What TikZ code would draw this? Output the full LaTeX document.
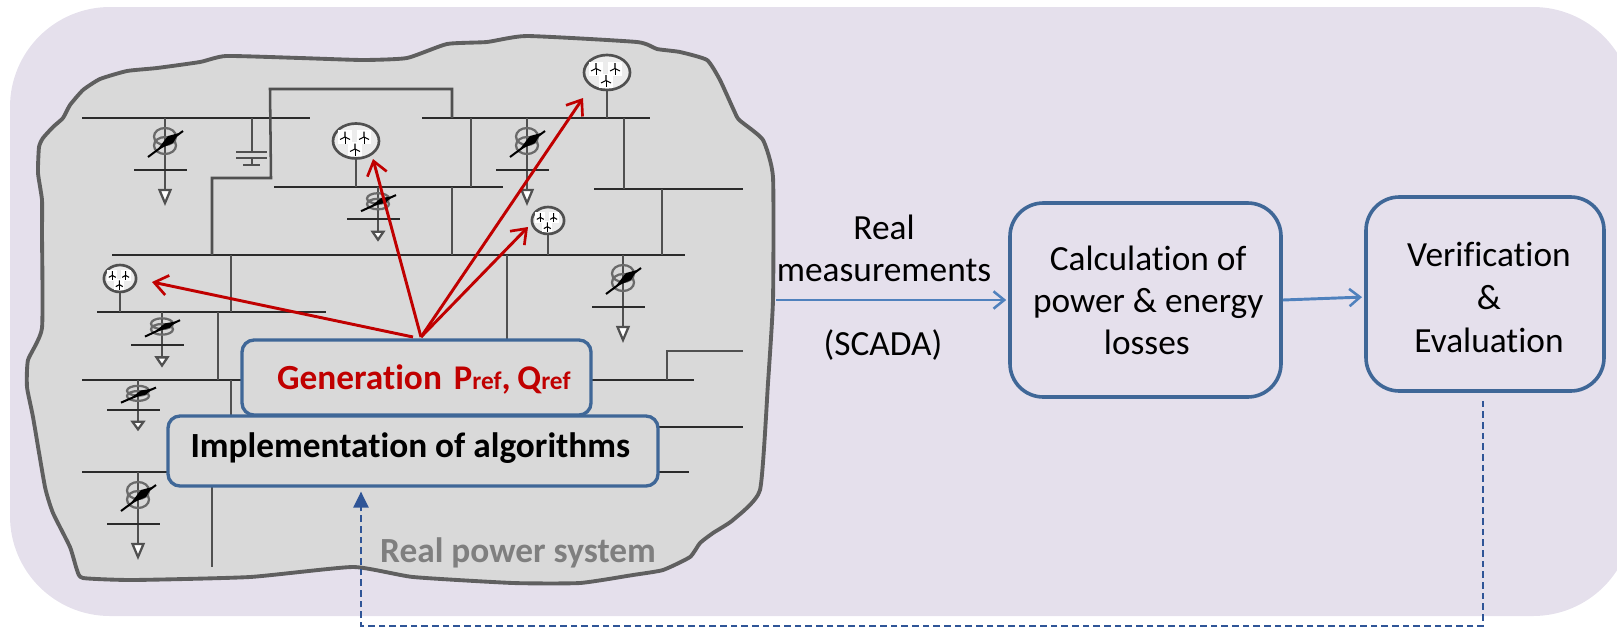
\documentclass[tikz,border=0pt]{standalone}
\usepackage{fontspec}
\setmainfont[Ligatures={NoCommon}]{Carlito}
\usetikzlibrary{arrows.meta,calc}
\definecolor{bgl}{HTML}{E5E0EC}
\definecolor{blobf}{HTML}{D9D9D9}
\definecolor{blobd}{HTML}{5F5F5F}
\definecolor{wireh}{HTML}{2B2B2B}
\definecolor{wirev}{HTML}{505050}
\definecolor{boxb}{HTML}{3F6797}
\definecolor{arrb}{HTML}{4F81BD}
\definecolor{dashb}{HTML}{2F5597}
\definecolor{redd}{HTML}{C00000}
\definecolor{txtg}{HTML}{7F7F7F}
\newcommand{\turbine}[2]{%
  \fill[white] (#1-7,#2-7) rectangle (#1+7,#2+7);
  \draw[black,line width=.6pt] (#1,#2) -- (#1,#2+6.5);
  \draw[black,line width=.8pt] (#1,#2) -- (#1,#2-5.5) (#1,#2) -- (#1-5,#2+2.5) (#1,#2) -- (#1+5,#2+2.5);
}
\tikzset{
  every node/.style={inner sep=0pt,font=\fontsize{26.5}{31.5}\selectfont},
  hbus/.style={draw=wireh,line width=1.6pt},
  vbus/.style={draw=wirev,line width=2.2pt},
  vstep/.style={draw=wirev,line width=1.9pt},
  bigbox/.style={draw=boxb,line width=2.7pt,rounded corners=25pt,align=center},
  midbox/.style={draw=boxb,fill=blobf,line width=2.5pt,rounded corners=9pt},
  redarrow/.style={draw=redd,line width=2.2pt,-{Straight Barb[length=10pt,width=15pt,line width=2pt]}},
  bluearrow/.style={draw=arrb,line width=2.2pt,-{Straight Barb[length=8pt,width=13pt,line width=1.9pt]},shorten >=1.5pt},
  feedback/.style={draw=dashb,line width=1.1pt,dash pattern=on 5pt off 3pt,-{Triangle[length=12pt,width=11.5pt]},shorten <=6pt,shorten >=3pt},
  xfmr/.pic={
    \draw[wirev,line width=2pt] (0,0) -- (0,72);
    \draw[wirev!85!white,line width=1.7pt] (0,18.5) ellipse (11 and 8.5) (0,27.5) ellipse (11 and 8.5);
    \draw[black,line width=1.5pt] (-17,39) -- (18,13);
    \fill[black] (-8,32) -- (3,18) -- (14,15) -- (8,25) -- cycle;
    \draw[wireh,line width=1.6pt] (-31,52) -- (22,52);
    \draw[wirev,fill=white,line width=1.7pt] (-5.5,72) -- (5.5,72) -- (0,85) -- cycle;
  },
  windfarm/.pic={
    \draw[wirev,fill=gray!15,line width=2pt] (0,0) ellipse (23 and 17.5);
    \turbine{-11}{-4}\turbine{8}{-4}\turbine{-1}{8}
  },
}
\begin{document}
\begin{tikzpicture}[x=0.75pt,y=-0.75pt]
\useasboundingbox (0,0) rectangle (1617,626);
\begin{scope}
\clip (0,0) rectangle (1617,626);
\fill[bgl,rounded corners=75pt] (10,7) rectangle (1633,616);
\end{scope}
% real power system outline
\draw[fill=blobf,draw=blobd,line width=2.9pt] plot[smooth cycle,tension=.3] coordinates {
 (226,56) (300,58) (363,60) (407,58) (447,44) (487,42) (527,36) (637,42) (657,49) (680,52) (707,60)
 (720,80) (737,117) (743,123) (763,140) (773,177) (773,300) (768,383) (760,490) (733,520) (713,533)
 (700,543) (690,557) (663,570) (633,575) (580,583) (513,583) (413,577) (353,567) (250,577) (133,580)
 (83,578) (77,570) (70,547) (53,513) (45,487) (33,417) (27,387) (28,360) (42,328) (42,233) (42,200)
 (38,173) (39,147) (43,138) (53,127) (63,118) (70,105) (83,90) (100,79) (127,71) (157,68) (200,62)};
% horizontal buses
\draw[hbus] (82,118) -- (310,118);
\draw[hbus] (422,118) -- (650,118);
\draw[hbus] (274,187) -- (503,187);
\draw[hbus] (594,189) -- (743,189);
\draw[hbus] (112,255) -- (685,255);
\draw[hbus] (97,312) -- (326,312);
\draw[hbus] (82,380) -- (242,380);
\draw[hbus] (82,472) -- (168,472);
\draw[hbus] (591,380) -- (694,380);
\draw[hbus] (658,427) -- (743,427);
\draw[hbus] (658,472) -- (689,472);
% connecting lines
\draw[vstep] (452,118) -- (452,89) -- (270,89) -- (271,178) -- (212,178) -- (212,255);
\draw[vbus] (252,118) -- (252,152);
\draw[vstep] (236,152) -- (267,152) (236,158) -- (267,158) (252,158) -- (252,165) (243,165) -- (260,165);
\draw[vbus] (471,118) -- (471,187);
\draw[vbus] (624,118) -- (624,189);
\draw[vbus] (662,189) -- (662,255);
\draw[vbus] (452,187) -- (452,255);
\draw[vbus] (231,255) -- (231,312);
\draw[vbus] (218,312) -- (218,380);
\draw[vbus] (231,380) -- (231,416);
\draw[vbus] (507,255) -- (507,340);
\draw[vbus] (212,486) -- (212,567);
\draw[vstep] (667,380) -- (667,351) -- (743,351);
% transformers and loads
\pic at (165,118) {xfmr};
\pic at (527,118) {xfmr};
\pic at (623,255) {xfmr};
\pic at (138,472) {xfmr};
\pic[yscale=.62] at (378,187) {xfmr};
\pic[yscale=.63] at (162,312) {xfmr};
\pic[yscale=.58] at (138,380) {xfmr};
% wind farms
\draw[vbus] (607,90) -- (607,118);
\draw[vbus] (356,158) -- (356,187);
\draw[vbus] (548,234) -- (548,255);
\draw[vbus] (120,292) -- (120,312);
\pic at (607,72.5) {windfarm};
\pic at (356,141) {windfarm};
\pic[xscale=.7,yscale=.77] at (548,220.5) {windfarm};
\pic[xscale=.7,yscale=.77] at (120,278.5) {windfarm};
% boxes
\node[midbox,minimum width=261.75pt,minimum height=56.25pt,text height=17.25pt,text depth=0pt,text=redd] (gen) at (416.5,377.5)
  {\hspace*{11pt}\bfseries Generation\hspace{9pt}{\fontsize{26}{26}\selectfont P}{\fontsize{19}{20}\selectfont ref},\hspace{5pt}{\fontsize{26}{26}\selectfont Q}{\fontsize{19}{20}\selectfont ref}};
\node[midbox,minimum width=367.5pt,minimum height=52.5pt,text height=9pt,text depth=0pt] (impl) at (413,451)
  {\bfseries Implementation of algorithms\hspace*{4pt}};
\node[text=txtg,anchor=base,font=\fontsize{26.5}{31.5}\selectfont\bfseries] (rps) at (518,562) {Real power system};
\node[bigbox,minimum width=203.25pt,minimum height=145.5pt] (calc) at (1145.5,300)
  {\hspace*{4pt}Calculation of\\\hspace*{4pt}power \& energy\\\hspace*{4pt}losses\hspace*{2pt}};
\node[bigbox,minimum width=178.5pt,minimum height=145.5pt,font=\fontsize{26.5}{32.25}\selectfont] (verif) at (1485,294)
  {\rule{0pt}{24pt}\hspace*{6pt}Verification\\\hspace*{6pt}\&\\\hspace*{6pt}Evaluation};
% measurement labels
\node[anchor=base] (lreal) at (884,239) {Real};
\node[anchor=base] (lmeas) at (884,281) {measurements};
\node[anchor=base] (lscada) at (883,355) {(SCADA)};
% connectors
\coordinate (meas) at (776,300);
\coordinate (verifin) at (1364,297);
\draw[bluearrow] (meas) -- (calc.west);
\draw[bluearrow] (calc.east) -- (verifin);
\coordinate (hub) at (421,337);
\coordinate (hubl) at (413,337);
\coordinate (t1) at (583,98);
\coordinate (t2) at (373,159);
\coordinate (t3) at (528,227);
\coordinate (t4) at (152,282);
\draw[redarrow] (hub) -- (t1);
\draw[redarrow] (hub) -- (t2);
\draw[redarrow] (hub) -- (t3);
\draw[redarrow] (hubl) -- (t4);
\draw[feedback] ($(verif.south)+(-2,0)$) -- ++(0,233) -| ($(impl.south)+(-52,0)$);
\end{tikzpicture}
\end{document}
